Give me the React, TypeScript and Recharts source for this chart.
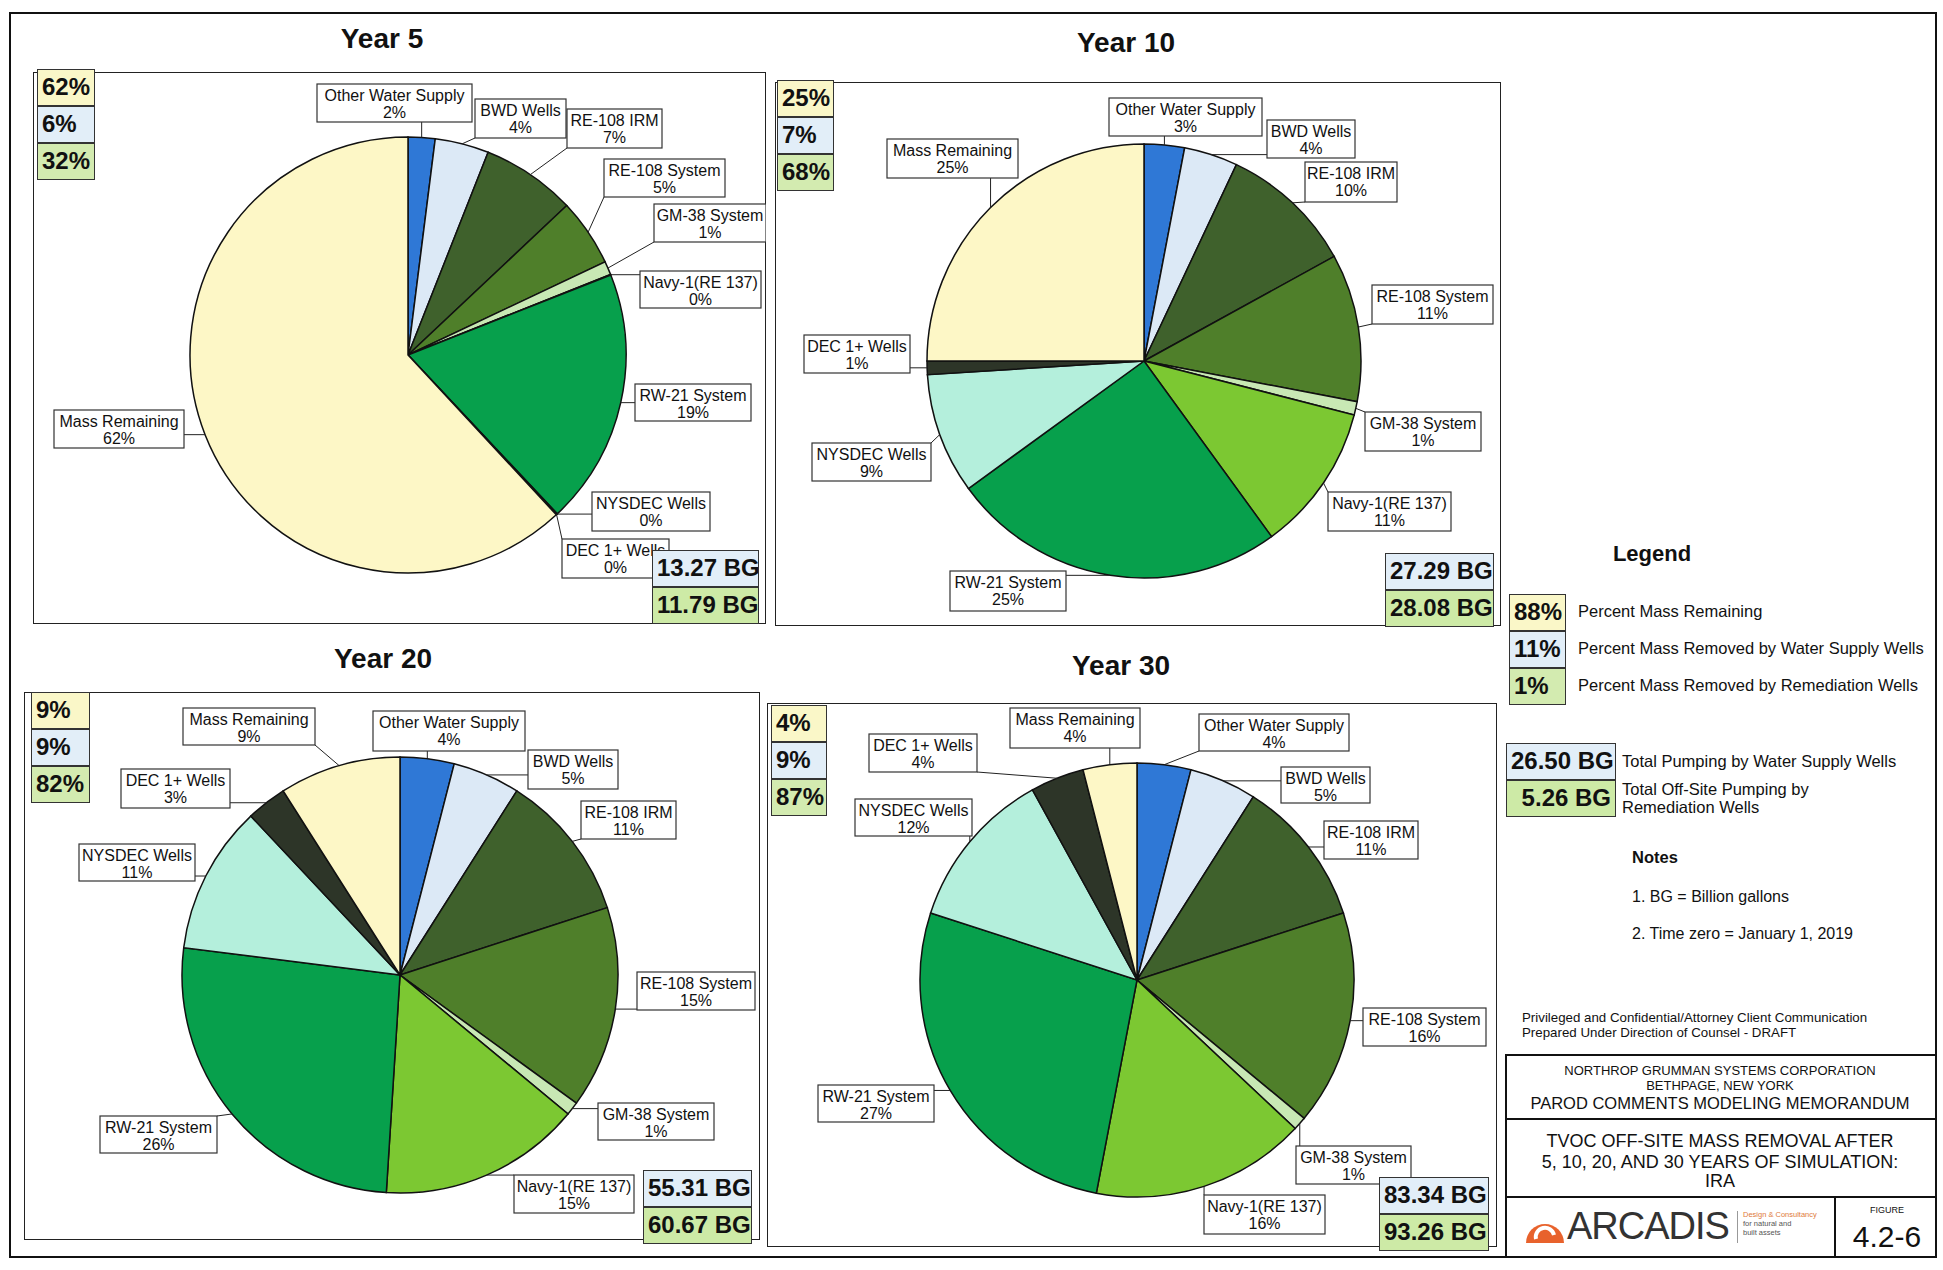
import React from "react";
import { PieChart, Pie, Cell } from "recharts";

const FF = '"Liberation Sans", Arial, sans-serif';

// slice categories, clockwise from 12 o'clock
const categories = [
  "Other Water Supply",
  "BWD Wells",
  "RE-108 IRM",
  "RE-108 System",
  "GM-38 System",
  "Navy-1(RE 137)",
  "RW-21 System",
  "NYSDEC Wells",
  "DEC 1+ Wells",
  "Mass Remaining",
];
const sliceColors = [
  "#2f78d6",
  "#dce9f6",
  "#3f612c",
  "#4f7f2a",
  "#c8e8b4",
  "#7cc832",
  "#07a04c",
  "#b4efdc",
  "#2d3528",
  "#fdf7c6",
];

// percent of mass per category
const year5 = [2, 4, 7, 5, 1, 0.05, 19, 0.05, 0.05, 62];
const year10 = [3, 4, 10, 11, 1, 11, 25, 9, 1, 25];
const year20 = [4, 5, 11, 15, 1, 15, 26, 11, 3, 9];
const year30 = [4, 5, 11, 16, 1, 16, 27, 12, 4, 4];

const yearTitles = ["Year 5", "Year 10", "Year 20", "Year 30"];
const remainingPct = [62, 25, 9, 4];
const supplyPct = [6, 7, 9, 9];
const remediationPct = [32, 68, 82, 87];
const supplyBG = [13.27, 27.29, 55.31, 83.34];
const remediationBG = [11.79, 28.08, 60.67, 93.26];

const legendPct = [88, 11, 1];
const legendPctText = [
  "Percent Mass Remaining",
  "Percent Mass Removed by Water Supply Wells",
  "Percent Mass Removed by Remediation Wells",
];
const legendBG = [26.5, 5.26];

const YELLOW = "#faf7c8";
const BLUE = "#e2eef8";
const GREEN = "#d3ebb0";
const GREEN_BG = "#cdeaa6";
const LINE = "#222";

// layout (page pixels): title centre, plot box, pct box column, bg box column, pie centre+radius, label boxes
const panels = [
  {
    title: [382, 39],
    box: [33, 72, 766, 624],
    pct: [37, 69, 58],
    bg: [652, 550, 107],
    pie: [408, 355, 218],
    labels: [
      [317, 84, 472, 122],
      [475, 99, 566, 138],
      [567, 109, 662, 148],
      [604, 159, 725, 197],
      [654, 204, 766, 242],
      [640, 271, 761, 308],
      [635, 384, 751, 421],
      [592, 492, 710, 531],
      [562, 539, 669, 578],
      [54, 410, 184, 448],
    ],
  },
  {
    title: [1126, 43],
    box: [775, 82, 1501, 626],
    pct: [777, 80, 57],
    bg: [1385, 553, 109],
    pie: [1144, 361, 217],
    labels: [
      [1109, 98, 1262, 136],
      [1267, 120, 1355, 158],
      [1305, 162, 1397, 202],
      [1372, 285, 1493, 324],
      [1365, 412, 1481, 451],
      [1328, 492, 1451, 531],
      [950, 571, 1066, 611],
      [812, 443, 931, 481],
      [804, 335, 910, 373],
      [887, 139, 1018, 178],
    ],
  },
  {
    title: [383, 659],
    box: [24, 692, 760, 1240],
    pct: [31, 692, 59],
    bg: [643, 1170, 109],
    pie: [400, 975, 218],
    labels: [
      [373, 711, 525, 751],
      [528, 750, 618, 789],
      [581, 801, 676, 839],
      [637, 972, 755, 1010],
      [598, 1103, 714, 1140],
      [514, 1175, 634, 1213],
      [100, 1116, 217, 1153],
      [79, 844, 195, 881],
      [121, 769, 230, 808],
      [183, 708, 315, 745],
    ],
  },
  {
    title: [1121, 666],
    box: [767, 703, 1497, 1247],
    pct: [771, 705, 56],
    bg: [1379, 1177, 110],
    pie: [1137, 980, 217],
    labels: [
      [1199, 714, 1349, 751],
      [1281, 767, 1370, 803],
      [1324, 821, 1418, 859],
      [1363, 1008, 1486, 1046],
      [1296, 1146, 1411, 1184],
      [1204, 1195, 1325, 1234],
      [818, 1085, 934, 1122],
      [855, 799, 972, 836],
      [869, 734, 977, 772],
      [1010, 708, 1140, 748],
    ],
  },
];

const seriesByYear = [year5, year10, year20, year30];

const RAD = Math.PI / 180;

function makeLabel(boxes: number[][], values: number[], left: number, top: number) {
  return (props: any) => {
    const { cx, cy, midAngle, outerRadius, index } = props;
    const b = boxes[index];
    if (!b) return null;
    const ex = cx + outerRadius * Math.cos(-midAngle * RAD);
    const ey = cy + outerRadius * Math.sin(-midAngle * RAD);
    const x0 = b[0] - left;
    const y0 = b[1] - top;
    const x1 = b[2] - left;
    const y1 = b[3] - top;
    const ax = Math.min(Math.max(ex, x0), x1);
    const ay = Math.min(Math.max(ey, y0), y1);
    const mx = (x0 + x1) / 2;
    return (
      <g>
        <line x1={ax} y1={ay} x2={ex} y2={ey} stroke={LINE} strokeWidth={1} />
        <rect x={x0} y={y0} width={x1 - x0} height={y1 - y0} fill="#fff" stroke="#333" strokeWidth={1.2} />
        <text x={mx} y={y0 + 17} textAnchor="middle" fontFamily={FF} fontSize={16} fill="#111">
          {categories[index]}
        </text>
        <text x={mx} y={y0 + 34} textAnchor="middle" fontFamily={FF} fontSize={16} fill="#111">
          {Math.round(values[index])}%
        </text>
      </g>
    );
  };
}

function ValueBox({ x, y, w, h, bg, text, align }: any) {
  return (
    <div
      style={{
        position: "absolute",
        left: x,
        top: y,
        width: w,
        height: h,
        boxSizing: "border-box",
        border: "1.5px solid #333",
        background: bg,
        fontFamily: FF,
        fontWeight: "bold",
        fontSize: 24,
        lineHeight: `${h - 3}px`,
        textAlign: align,
        padding: "0 4px",
        color: "#111",
        whiteSpace: "nowrap",
        overflow: "hidden",
      }}
    >
      {text}
    </div>
  );
}

function Panel({ idx }: { idx: number }) {
  const p = panels[idx];
  const values = seriesByYear[idx];
  const [bl, bt, br, bb] = p.box;
  const w = br - bl;
  const h = bb - bt;
  const data = categories.map((name, i) => ({ name, value: values[i] }));
  const pctVals = [remainingPct[idx], supplyPct[idx], remediationPct[idx]];
  const pctColors = [YELLOW, BLUE, GREEN];
  return (
    <>
      <div
        style={{
          position: "absolute",
          left: p.title[0] - 150,
          top: p.title[1] - 18,
          width: 300,
          textAlign: "center",
          fontFamily: FF,
          fontWeight: "bold",
          fontSize: 28,
          lineHeight: "36px",
          color: "#111",
        }}
      >
        {yearTitles[idx]}
      </div>
      <div
        style={{
          position: "absolute",
          left: bl,
          top: bt,
          width: w,
          height: h,
          boxSizing: "border-box",
          border: "1.5px solid #222",
        }}
      />
      <div style={{ position: "absolute", left: bl, top: bt, width: w, height: h }}>
        <PieChart width={w} height={h} margin={{ top: 0, right: 0, bottom: 0, left: 0 }} style={{ overflow: "visible" }}>
          <Pie
            data={data}
            dataKey="value"
            nameKey="name"
            cx={p.pie[0] - bl}
            cy={p.pie[1] - bt}
            outerRadius={p.pie[2]}
            startAngle={90}
            endAngle={-270}
            stroke="#111"
            strokeWidth={1.5}
            labelLine={false}
            label={makeLabel(p.labels, values, bl, bt)}
            isAnimationActive={false}
          >
            {data.map((d, i) => (
              <Cell key={d.name} fill={sliceColors[i]} />
            ))}
          </Pie>
        </PieChart>
      </div>
      {pctVals.map((v, i) => (
        <ValueBox
          key={i}
          x={p.pct[0]}
          y={p.pct[1] + i * 37}
          w={p.pct[2]}
          h={37}
          bg={pctColors[i]}
          text={`${v}%`}
          align="left"
        />
      ))}
      <ValueBox x={p.bg[0]} y={p.bg[1]} w={p.bg[2]} h={37} bg={BLUE} text={`${supplyBG[idx].toFixed(2)} BG`} align="right" />
      <ValueBox
        x={p.bg[0]}
        y={p.bg[1] + 37}
        w={p.bg[2]}
        h={37}
        bg={GREEN_BG}
        text={`${remediationBG[idx].toFixed(2)} BG`}
        align="right"
      />
    </>
  );
}

const txt = (x: number, y: number, s: string, size: number, extra: any = {}) => (
  <div
    style={{
      position: "absolute",
      left: x,
      top: y - size * 0.6,
      fontFamily: FF,
      fontSize: size,
      lineHeight: `${size * 1.2}px`,
      color: "#111",
      whiteSpace: "nowrap",
      ...extra,
    }}
  >
    {s}
  </div>
);

const ctr = (cx: number, y: number, s: string, size: number) => (
  <div
    style={{
      position: "absolute",
      left: cx - 250,
      width: 500,
      top: y - size * 0.6,
      textAlign: "center",
      fontFamily: FF,
      fontSize: size,
      lineHeight: `${size * 1.2}px`,
      color: "#111",
      whiteSpace: "nowrap",
    }}
  >
    {s}
  </div>
);

export default function App() {
  const pctColors = [YELLOW, BLUE, GREEN];
  return (
    <div style={{ position: "absolute", left: 0, top: 0, width: 1943, height: 1270, background: "#fff", overflow: "hidden" }}>
      {/* outer frame */}
      <div
        style={{
          position: "absolute",
          left: 9,
          top: 12,
          width: 1928,
          height: 1246,
          boxSizing: "border-box",
          border: "2px solid #111",
        }}
      />
      {[0, 1, 2, 3].map((i) => (
        <Panel key={i} idx={i} />
      ))}

      {/* legend */}
      <div
        style={{
          position: "absolute",
          left: 1552,
          top: 541,
          width: 200,
          textAlign: "center",
          fontFamily: FF,
          fontWeight: "bold",
          fontSize: 22,
          color: "#111",
        }}
      >
        Legend
      </div>
      {legendPct.map((v, i) => (
        <React.Fragment key={i}>
          <ValueBox x={1509} y={594 + i * 37} w={57} h={37} bg={pctColors[i]} text={`${v}%`} align="left" />
          {txt(1578, 612 + i * 37, legendPctText[i], 16.5)}
        </React.Fragment>
      ))}
      <ValueBox x={1506} y={743} w={110} h={37} bg={BLUE} text={`${legendBG[0].toFixed(2)} BG`} align="right" />
      <ValueBox x={1506} y={780} w={110} h={37} bg={GREEN_BG} text={`${legendBG[1].toFixed(2)} BG`} align="right" />
      {txt(1622, 762, "Total Pumping by Water Supply Wells", 16.5)}
      {txt(1622, 790, "Total Off-Site Pumping by", 16.5)}
      {txt(1622, 808, "Remediation Wells", 16.5)}
      {txt(1632, 858, "Notes", 16.5, { fontWeight: "bold" })}
      {txt(1632, 897, "1. BG = Billion gallons", 16)}
      {txt(1632, 934, "2. Time zero = January 1, 2019", 16)}

      {txt(1522, 1018, "Privileged and Confidential/Attorney Client Communication", 13.3)}
      {txt(1522, 1033, "Prepared Under Direction of Counsel - DRAFT", 13.3)}

      {/* title block */}
      <div
        style={{
          position: "absolute",
          left: 1505,
          top: 1054,
          width: 432,
          height: 204,
          boxSizing: "border-box",
          border: "2px solid #111",
        }}
      />
      <div style={{ position: "absolute", left: 1505, top: 1118, width: 432, height: 2, background: "#111" }} />
      <div style={{ position: "absolute", left: 1505, top: 1196, width: 432, height: 2, background: "#111" }} />
      <div style={{ position: "absolute", left: 1834, top: 1196, width: 2, height: 62, background: "#111" }} />
      {ctr(1720, 1071, "NORTHROP GRUMMAN SYSTEMS CORPORATION", 13)}
      {ctr(1720, 1086, "BETHPAGE, NEW YORK", 13)}
      {ctr(1720, 1104, "PAROD COMMENTS MODELING MEMORANDUM", 16.5)}
      {ctr(1720, 1142, "TVOC OFF-SITE MASS REMOVAL AFTER", 18)}
      {ctr(1720, 1163, "5, 10, 20, AND 30 YEARS OF SIMULATION:", 18)}
      {ctr(1720, 1182, "IRA", 18)}

      <svg style={{ position: "absolute", left: 1524, top: 1209 }} width={42} height={36}>
        <path d="M2,34 A19,19 0 1,1 40,34 Z" fill="#e8622c" />
        <path d="M12,30 A9,9 0 1,1 30,26" fill="none" stroke="#fff" strokeWidth={4} />
      </svg>
      {txt(1567, 1227, "ARCADIS", 38, { color: "#333", letterSpacing: -1 })}
      <div style={{ position: "absolute", left: 1737, top: 1211, width: 1, height: 32, background: "#999" }} />
      {txt(1743, 1214, "Design & Consultancy", 7.5, { color: "#e07a3a" })}
      {txt(1743, 1223, "for natural and", 7.5, { color: "#555" })}
      {txt(1743, 1232, "built assets", 7.5, { color: "#555" })}
      {ctr(1887, 1210, "FIGURE", 9)}
      {ctr(1887, 1237, "4.2-6", 30)}
    </div>
  );
}
